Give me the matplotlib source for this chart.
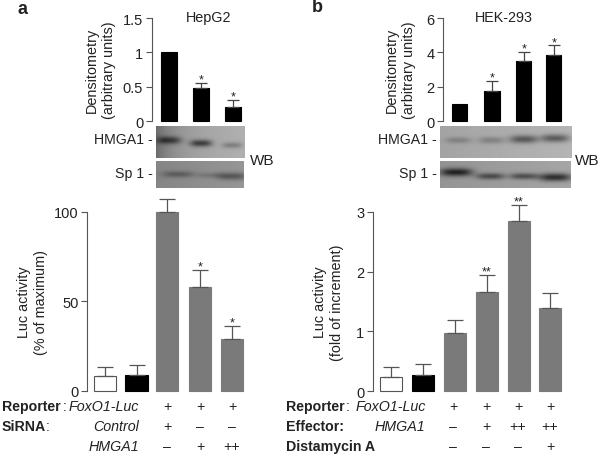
import numpy as np
import matplotlib
matplotlib.use("Agg")
import matplotlib.pyplot as plt

plt.rcParams['font.family'] = ['Liberation Sans', 'DejaVu Sans']

W, H = 600, 456
TXT = "#222222"
AXC = "#555555"
GREY = "#7a7a7a"

# densitometry, panel a
dens_a = [1.0, 0.48, 0.21]
dens_a_err = [0, 0.07, 0.09]
dens_a_star = ["", "*", "*"]
dens_a_x = [169, 201, 233]

# densitometry, panel b
dens_b = [1.0, 1.72, 3.5, 3.82]
dens_b_err = [0, 0.63, 0.5, 0.58]
dens_b_star = ["", "*", "*", "*"]
dens_b_x = [459.7, 492, 523.7, 553.7]

# luciferase, panel a
luc_a = [8, 9, 100, 58, 29]
luc_a_err = [5, 5.5, 7, 9.3, 7]
luc_a_star = ["", "", "", "*", "*"]
luc_a_x = [105, 136.7, 167, 200, 232]
luc_a_col = ["white", "black", GREY, GREY, GREY]

# luciferase, panel b
luc_b = [0.24, 0.28, 0.98, 1.66, 2.85, 1.39]
luc_b_err = [0.17, 0.17, 0.21, 0.28, 0.26, 0.25]
luc_b_star = ["", "", "", "**", "**", ""]
luc_b_x = [391, 423, 455, 487, 519, 550]
luc_b_col = ["white", "black", GREY, GREY, GREY, GREY]

# row labels under the bars
rows_a = [["+", "+", "+"], ["+", "\u2013", "\u2013"], ["\u2013", "+", "++"]]
rows_a_x = [167, 200, 232]
rows_b = [["+", "+", "+", "+"], ["\u2013", "+", "++", "++"], ["\u2013", "\u2013", "\u2013", "+"]]
rows_b_x = [453, 486, 518, 550]

# blot bands: x centre, y centre, half width, half height, darkness
band_a1 = [(169, 141, 12, 3.8, 0.34), (201, 144, 11, 3.5, 0.4), (232, 146, 10, 3, 0.18)]
band_a2 = [(178, 175, 16, 3.2, 0.18), (210, 176, 13, 2.8, 0.1), (232, 177, 15, 3.8, 0.24)]
band_b1 = [(458, 141, 13, 3.2, 0.14), (491, 141, 13, 3.5, 0.16), (523, 140, 14, 4, 0.34), (554, 139, 14, 4, 0.34)]
band_b2 = [(456, 173, 16, 4, 0.46), (490, 177, 14, 3.2, 0.32), (523, 177, 14, 3.2, 0.32), (554, 178, 16, 4, 0.46)]


def px_axes(fig, x0, x1, ytop, ybot):
    return fig.add_axes([x0 / W, 1 - ybot / H, (x1 - x0) / W, (ybot - ytop) / H])


def bar_panel(fig, box, ymax, ticks, ticklabels, xs, vals, errs, stars, cols, width, ylabel, lab_x, errc):
    x0, x1, ytop, ybot = box
    ax = px_axes(fig, x0, x1, ytop, ybot)
    ax.set_xlim(x0, x1)
    ax.set_ylim(0, ymax)
    ax.patch.set_alpha(0)
    ax.bar(xs, vals, width=width, color=cols, edgecolor=[c if c != "white" else "#555555" for c in cols], linewidth=0.8, clip_on=False)
    for x, v, e, s in zip(xs, vals, errs, stars):
        if e > 0:
            ax.errorbar(x, v, yerr=[[0], [e]], color=errc, capsize=width * 0.26, elinewidth=0.9, capthick=0.9, clip_on=False)
        if s:
            ax.annotate(s, (x, v + e), xytext=(0, 2.5), textcoords="offset points", ha="center", va="center", fontsize=9, color=TXT, annotation_clip=False)
    for sp in ["top", "right", "bottom"]:
        ax.spines[sp].set_visible(False)
    ax.spines["left"].set_color(AXC)
    ax.spines["left"].set_linewidth(0.8)
    ax.set_xticks([])
    ax.set_yticks(ticks)
    ax.set_yticklabels(ticklabels, fontsize=10.5, color=TXT)
    ax.tick_params(axis="y", length=4, width=0.8, color=AXC, pad=2)
    ax.set_ylabel(ylabel, fontsize=10.4, color=TXT, linespacing=1.25)
    ax.yaxis.set_label_coords((lab_x - x0) / (x1 - x0), 0.5)
    return ax


def blot(fig, x0, x1, ytop, ybot, bands, base, left_dark=0.0):
    ax = px_axes(fig, x0, x1, ytop, ybot)
    xx, yy = np.meshgrid(np.arange(x0, x1, 0.5), np.arange(ytop, ybot, 0.5))
    img = base + 0.07 * (xx - x0) / (x1 - x0) - left_dark * np.exp(-(xx - x0) / 18)
    for cx, cy, hw, hh, d in bands:
        img = img - d * np.exp(-np.abs((xx - cx) / hw) ** 3 - ((yy - cy) / hh) ** 2)
    ax.imshow(np.clip(img, 0, 1), cmap="gray", vmin=0, vmax=1, aspect="auto", extent=[x0, x1, ybot, ytop], interpolation="bilinear")
    ax.axis("off")


fig = plt.figure(figsize=(6, 4.56), dpi=100)

bar_panel(fig, (151.5, 245, 19, 122), 1.5, [0, 0.5, 1, 1.5], ["0", "0.5", "1", "1.5"], dens_a_x, dens_a, dens_a_err,
          dens_a_star, ["black"] * 3, 15.5, "Densitometry\n(arbitrary units)", 116, "#444444")
bar_panel(fig, (442.7, 571, 19, 122), 6, [0, 2, 4, 6], ["0", "2", "4", "6"], dens_b_x, dens_b, dens_b_err,
          dens_b_star, ["black"] * 4, 15.5, "Densitometry\n(arbitrary units)", 416, "#444444")
bar_panel(fig, (87, 250, 212.7, 391.7), 100, [0, 50, 100], ["0", "50", "100"], luc_a_x, luc_a, luc_a_err,
          luc_a_star, luc_a_col, 22.5, "Luc activity\n(% of maximum)", 48, "#555555")
bar_panel(fig, (372.7, 565, 212.7, 392.3), 3, [0, 1, 2, 3], ["0", "1", "2", "3"], luc_b_x, luc_b, luc_b_err,
          luc_b_star, luc_b_col, 22.5, "Luc activity\n(fold of increment)", 344, "#555555")

blot(fig, 156, 245, 127, 159, band_a1, 0.62, 0.2)
blot(fig, 156, 244, 162, 189, band_a2, 0.52)
blot(fig, 440, 571, 127, 159, band_b1, 0.64)
blot(fig, 440, 570, 162, 189, band_b2, 0.58)

# overlay in pixel coordinates for the free text
ov = fig.add_axes([0, 0, 1, 1])
ov.set_xlim(0, W)
ov.set_ylim(H, 0)
ov.axis("off")


def t(x, y, s, ha="left", size=10.2, **kw):
    ov.text(x, y, s, ha=ha, va="center", fontsize=size, color=TXT, **kw)


t(18, 9, "a", weight="bold", size=13)
t(312, 8, "b", weight="bold", size=13)
t(208.5, 18, "HepG2", ha="center", size=10.4)
t(503.5, 18, "HEK-293", ha="center", size=10.4)
t(153, 140, "HMGA1 -", ha="right")
t(153, 174, "Sp 1 -", ha="right")
t(437, 140, "HMGA1 -", ha="right")
t(437, 174, "Sp 1 -", ha="right")
t(250, 161, "WB", size=11)
t(575, 161, "WB", size=11)

# panel a rows
t(2, 407, "Reporter", weight="bold")
t(62.5, 407, ":")
t(139, 407, "FoxO1-Luc", ha="right", style="italic", size=10.3)
t(2, 427, "SiRNA", weight="bold")
t(46, 427, ":")
t(139, 427, "Control", ha="right", style="italic", size=10.3)
t(139, 447, "HMGA1", ha="right", style="italic", size=10.3)
for y, row in zip([407, 427, 447], rows_a):
    for x, s in zip(rows_a_x, row):
        t(x, y, s, ha="center")

# panel b rows
t(286, 407, "Reporter", weight="bold")
t(346, 407, ":")
t(426, 407, "FoxO1-Luc", ha="right", style="italic", size=10.3)
t(286, 427, "Effector:", weight="bold")
t(425, 427, "HMGA1", ha="right", style="italic", size=10.3)
t(286, 447, "Distamycin A", weight="bold")
for y, row in zip([407, 427, 447], rows_b):
    for x, s in zip(rows_b_x, row):
        t(x, y, s, ha="center")

fig.savefig("out.png", dpi=100)
